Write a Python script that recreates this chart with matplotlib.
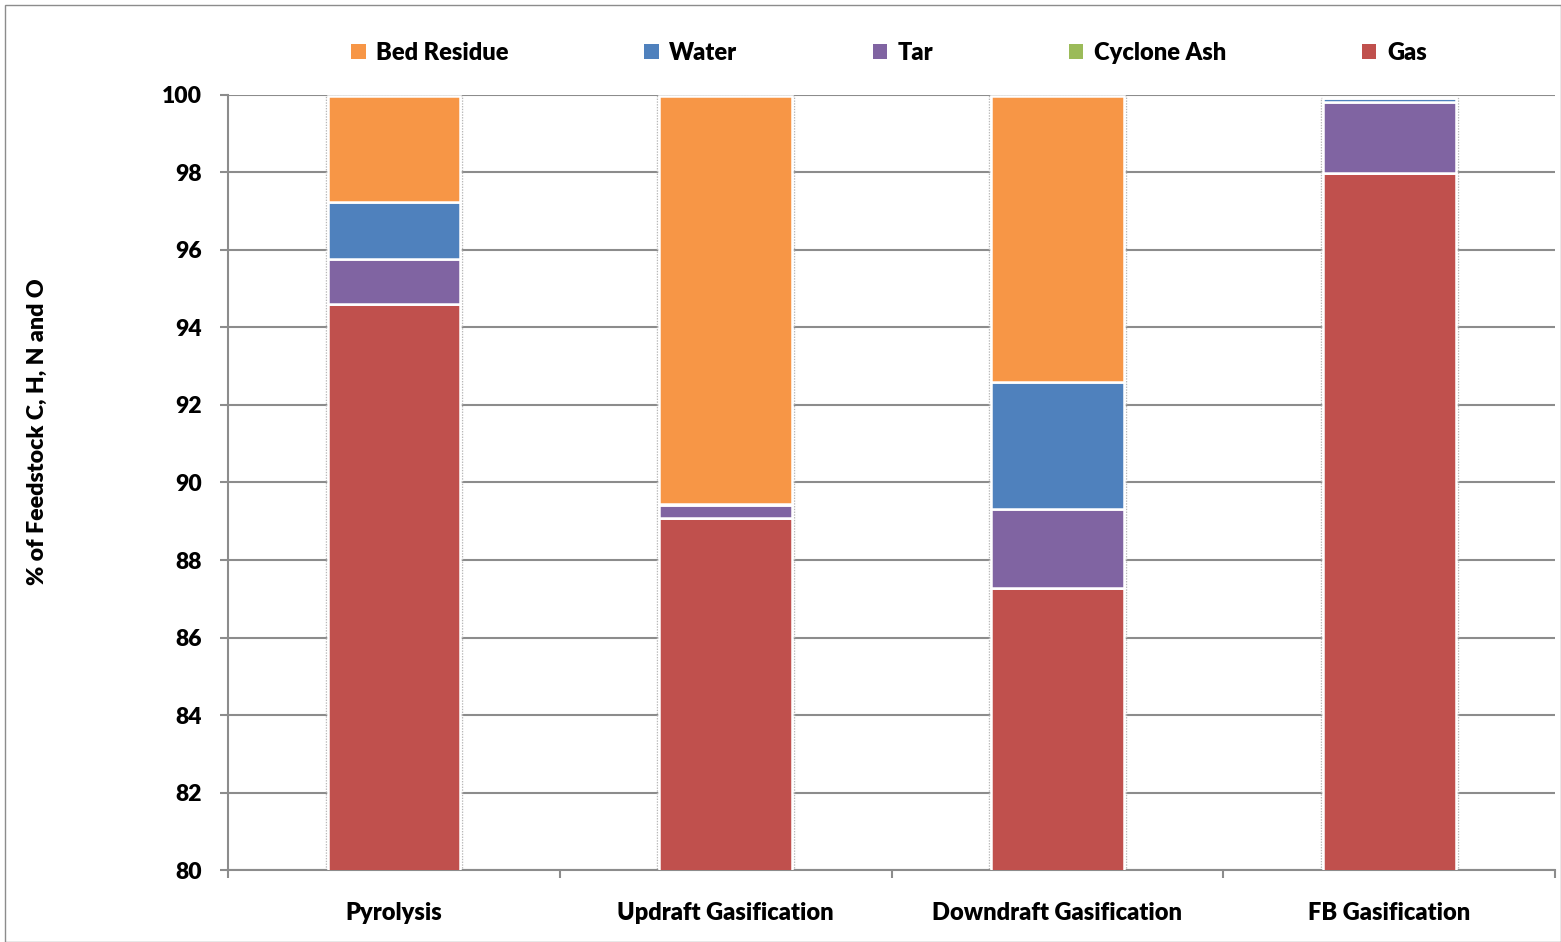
import matplotlib
matplotlib.use("Agg")
import matplotlib.pyplot as plt
import numpy as np
from matplotlib.patches import Rectangle, Patch

# Product distribution (% of feedstock C, H, N and O)
categories = ["Pyrolysis", "Updraft Gasification", "Downdraft Gasification", "FB Gasification"]
gas = [94.60, 89.08, 87.28, 97.99]
cyclone_ash = [0.0, 0.0, 0.0, 0.0]
tar = [1.17, 0.34, 2.04, 1.82]
water = [1.47, 0.03, 3.27, 0.10]
bed_residue = [2.73, 10.52, 7.38, 0.0]

series = [
    ("Gas", gas, "#C0504D"),
    ("Cyclone Ash", cyclone_ash, "#9BBB59"),
    ("Tar", tar, "#8064A2"),
    ("Water", water, "#4F81BD"),
    ("Bed Residue", bed_residue, "#F79646"),
]

WEIGHT = "heavy"
plt.rcParams["font.family"] = ["Lato", "DejaVu Sans"]
plt.rcParams["font.weight"] = WEIGHT

fig = plt.figure(figsize=(15.61, 9.42), dpi=100)
ax = fig.add_axes([0.1461, 0.0764, 0.9962 - 0.1461, 0.8992 - 0.0764])

x = np.arange(len(categories))
width = 0.40

# faint dotted outline around each full stack
totals = np.sum([s[1] for s in series], axis=0)
ax.bar(x, totals, width=width + 0.012, facecolor="none", edgecolor="#b8b8b8",
       linestyle=(0, (1, 1)), linewidth=1.0, zorder=2)

bottom = np.zeros(len(categories))
handles = {}
for name, vals, color in series:
    vals = np.array(vals)
    ax.bar(x, vals, width=width, bottom=bottom, color=color,
           edgecolor="white", linewidth=1.8, zorder=3)
    handles[name] = Patch(facecolor=color, edgecolor="none")
    bottom = bottom + vals

ax.set_ylim(80, 100)
ax.set_xlim(-0.5, len(categories) - 0.5)
ax.set_yticks(np.arange(80, 101, 2))
ax.yaxis.grid(True, color="#8c8c8c", linewidth=1.5)
ax.set_axisbelow(True)

ax.set_xticks(np.arange(-0.5, len(categories), 1.0))
ax.set_xticklabels([])
ax.set_xticks(x, minor=True)
ax.set_xticklabels(categories, minor=True)
ax.tick_params(axis="x", which="major", length=6, width=1.5, color="#8c8c8c", direction="out")
ax.tick_params(axis="x", which="minor", length=0, pad=23, labelsize=17)
ax.tick_params(axis="y", length=6, width=1.5, color="#8c8c8c", direction="out", pad=13, labelsize=16.5)

for side in ["top", "right"]:
    ax.spines[side].set_visible(False)
for side in ["left", "bottom"]:
    ax.spines[side].set_color("#8c8c8c")
    ax.spines[side].set_linewidth(1.5)

for lbl in ax.get_xticklabels(minor=True) + ax.get_yticklabels():
    lbl.set_fontweight(WEIGHT)

fig.text(37 / 1561, 1 - 432 / 942, "% of Feedstock C, H, N and O", rotation=90,
         ha="center", va="center", fontsize=16.7, fontweight=WEIGHT)

order = ["Bed Residue", "Water", "Tar", "Cyclone Ash", "Gas"]
fig.legend([handles[n] for n in order], order, ncol=5, loc="center",
           bbox_to_anchor=(889 / 1561, 1 - 53 / 942), frameon=False,
           prop={"size": 17, "weight": WEIGHT}, handlelength=0.6, handleheight=0.6,
           handletextpad=0.45, columnspacing=5.75)

fig.patches.append(Rectangle((0.003, 0.0), 0.997, 0.995, transform=fig.transFigure,
                             fill=False, edgecolor="#8c8c8c", linewidth=1.0))

fig.savefig("out.png", dpi=100)
